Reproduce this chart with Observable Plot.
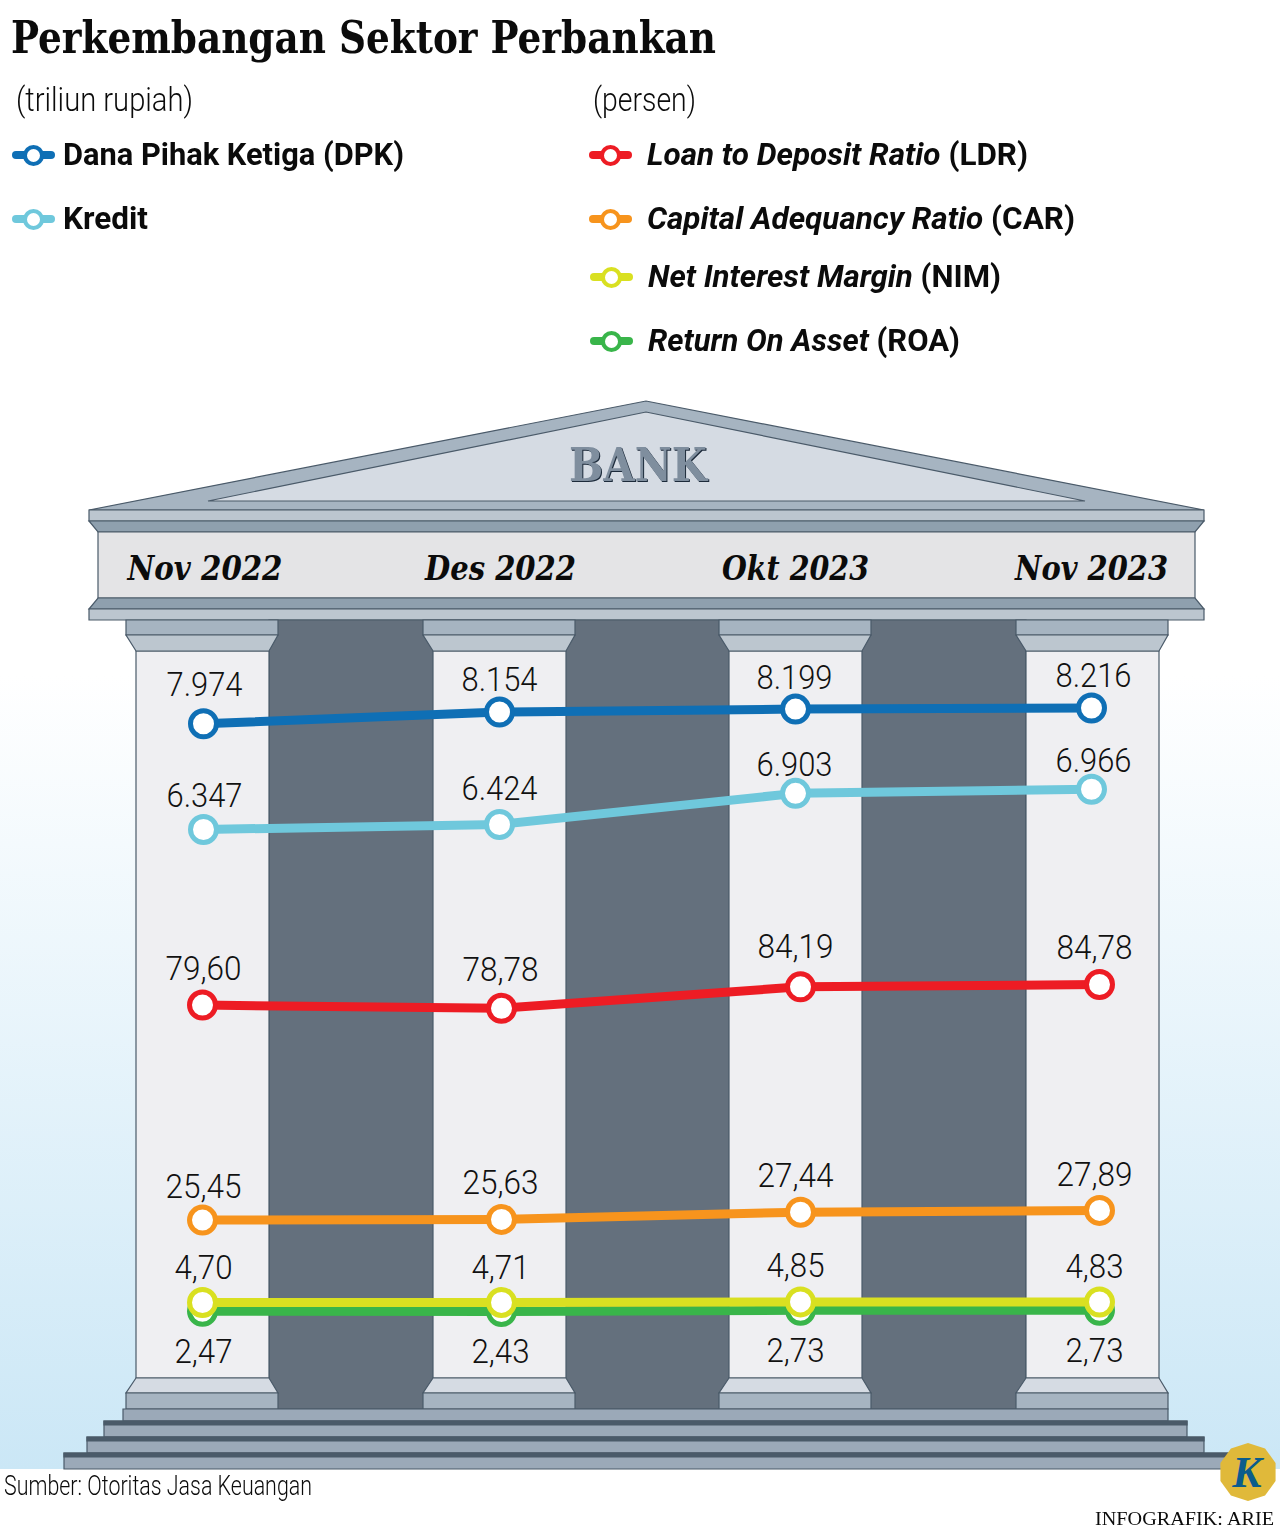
<!DOCTYPE html>
<html>
<head>
<meta charset="utf-8">
<script src="https://cdn.jsdelivr.net/npm/d3@7"></script>
<script src="https://cdn.jsdelivr.net/npm/@observablehq/plot@0.6"></script>
<style>
  body { margin: 0; background: #fff; }
  #page { position: relative; width: 1280px; height: 1529px; overflow: hidden; }
  #sky { position: absolute; left: 0; top: 0; width: 1280px; height: 1469px;
         background: linear-gradient(#fff 0%, #fff 46%, #cbe7f6 100%); }
  #page svg { position: absolute; left: 0; top: 0; }
  .txt { position: absolute; white-space: pre; transform-origin: left center; line-height: 1; color: #0b0b0b; }
  .swatch { position: absolute; height: 8px; border-radius: 4px; }
  .swatch i { position: absolute; left: 50%; top: 50%; width: 13px; height: 13px; margin: -10.5px; border: 4px solid; border-radius: 50%; background: #fff; }
</style>
</head>
<body>
<div id="page"><div id="sky"></div></div>
<script>
// data
const months = ["Nov 2022", "Des 2022", "Okt 2023", "Nov 2023"];
const dpk = [7974, 8154, 8199, 8216];
const kredit = [6347, 6424, 6903, 6966];
const ldr = [79.60, 78.78, 84.19, 84.78];
const car = [25.45, 25.63, 27.44, 27.89];
const nim = [4.70, 4.71, 4.85, 4.83];
const roa = [2.47, 2.43, 2.73, 2.73];

// label offsets from each dot, px
const dpkDy = [-38, -32, -31, -32];
const kreditDy = [-33, -35, -28, -28];
const ldrDy = [-36, -38, -39, -36];
const carDy = [-33, -36, -36, -35];
const nimDy = [-34, -34, -35, -35];
const roaDy = [41, 41, 41, 41];
const persenDx = [1, -1, -5, -5];
const rupiahDx = [1, 0, -1, 2];
const monthDx = [1.5, 1, 0, 0];

const colors = { dpk: "#0f6fb5", kredit: "#6fc8dc", ldr: "#ed1c24", car: "#f7941d", nim: "#d9e021", roa: "#39b54a" };

const fmt = d3.formatLocale({ decimal: ",", thousands: ".", grouping: [3], currency: ["", ""] });
const fmtRupiah = fmt.format(",d");
const fmtPersen = fmt.format(".2f");

const page = document.getElementById("page");
const serif = "'DejaVu Serif Condensed', 'DejaVu Serif', serif";

// temple behind the chart, pure decoration
function building() {
  const g = d3.create("svg:g").attr("stroke", "#4a5a69").attr("stroke-width", 1.2);
  const poly = (pts, fill) => g.append("path").attr("d", "M" + pts.join("L") + "Z").attr("fill", fill);
  const box = (x1, y1, x2, y2, fill) => poly([[x1, y1], [x2, y1], [x2, y2], [x1, y2]], fill);

  poly([[89, 510], [646, 401], [1204, 510]], "#a6b4c1");
  poly([[208, 501], [646, 412], [1085, 501]], "#d5dbe3");
  box(89, 510, 1204, 521, "#bcc6cf");
  poly([[89, 521], [1204, 521], [1195, 532], [98, 532]], "#8fa0ae");
  box(98, 532, 1195, 598, "#e4e4e6");
  poly([[98, 598], [1195, 598], [1204, 609], [89, 609]], "#8fa0ae");
  box(89, 609, 1204, 620, "#bcc6cf");

  box(269, 620, 1026, 1409, "#64707d");
  for (const x of [126, 423, 719, 1016]) {
    box(x + 10, 651, x + 143, 1378, "#efeff2");
    box(x, 620, x + 152, 635, "#a6b4c1");
    poly([[x, 635], [x + 152, 635], [x + 143, 651], [x + 10, 651]], "#bcc6cf");
    poly([[x + 10, 1378], [x + 143, 1378], [x + 152, 1393], [x, 1393]], "#d5dbe3");
    box(x, 1393, x + 152, 1409, "#a6b4c1");
  }

  box(123, 1409, 1168, 1421, "#9ba9b8");
  for (const [x1, x2, y] of [[104, 1187, 1421], [87, 1204, 1437], [64, 1240, 1453]]) {
    box(x1, y, x2, y + 16, "#9ba9b8");
    box(x1, y, x2, y + 4, "#4a5a69");
  }

  g.append("text").text("BANK").attr("x", 638).attr("y", 481)
    .attr("text-anchor", "middle").attr("textLength", 138).attr("lengthAdjust", "spacingAndGlyphs")
    .attr("font-family", serif).attr("font-weight", 700).attr("font-size", 46)
    .attr("fill", "#7f8e9e").attr("stroke", "none")
    .style("filter", "drop-shadow(1.5px 1.5px 0 #1c2a3a)");
  return g.node();
}

function logo() {
  const g = d3.create("svg:g").attr("transform", "translate(1248,1472)");
  const pts = d3.range(10).map(i => {
    const a = (i / 10) * 2 * Math.PI - Math.PI / 2;
    return [29 * Math.cos(a), 29 * Math.sin(a)];
  });
  g.append("path").attr("d", "M" + pts.join("L") + "Z").attr("fill", "#e0b93a");
  g.append("path").attr("d", "M" + pts.slice(0, 5).map(p => "0,0L" + p).join("L") + "Z").attr("fill", "#ecca55").attr("opacity", 0.5);
  g.append("text").text("K").attr("x", -1).attr("y", 15).attr("text-anchor", "middle")
    .attr("font-family", "'Liberation Serif', serif").attr("font-style", "italic").attr("font-weight", 700)
    .attr("font-size", 44).attr("fill", "#0b5c8c");
  return g.node();
}

const seriesMarks = (values, dy, color, fmtValue, lineWidth, dx) => {
  const rows = months.map((m, i) => ({ month: m, value: values[i] }));
  return [
    Plot.line(rows, { x: "month", y: "value", stroke: color, strokeWidth: lineWidth }),
    Plot.dot(rows, { x: "month", y: "value", r: 13, stroke: color, strokeWidth: 5, fill: "#fff" }),
    ...rows.map((d, i) => Plot.text([d], {
      x: "month", y: "value", text: r => fmtValue(r.value), dy: dy[i], dx: dx[i],
      className: "val", fontFamily: "Roboto", fontWeight: 300, fontSize: 33, fill: "#111"
    }))
  ];
};

// upper panel: trillion rupiah, also carries the temple and month names
const chartRupiah = Plot.plot({
  width: 1280, height: 1529,
  marginTop: 0, marginRight: 0, marginBottom: 0, marginLeft: 0,
  style: { background: "transparent", overflow: "visible" },
  x: { type: "point", domain: months, range: [201.5, 1092], padding: 0, axis: null },
  y: { domain: d3.extent(kredit.concat(dpk)), range: [829, 707.5], axis: null },
  marks: [
    building,
    ...months.map((m, i) => Plot.text([m], {
      x: d => d, frameAnchor: "top", dy: 556, dx: monthDx[i], text: d => d, className: "month",
      fontFamily: serif, fontStyle: "italic", fontWeight: 700, fontSize: 33, fill: "#0b0b0b"
    })),
    ...seriesMarks(dpk, dpkDy, colors.dpk, fmtRupiah, 9, rupiahDx),
    ...seriesMarks(kredit, kreditDy, colors.kredit, fmtRupiah, 9, rupiahDx)
  ]
});

// lower panel: percent, its own scale sitting on the same page
const chartPersen = Plot.plot({
  width: 1280, height: 1529,
  marginTop: 0, marginRight: 0, marginBottom: 0, marginLeft: 0,
  style: { background: "transparent", overflow: "visible" },
  x: { type: "point", domain: months, range: [201.5, 1098.5], padding: 0, axis: null },
  y: { domain: d3.extent(roa.concat(ldr)), range: [1311, 984], axis: null },
  marks: [
    ...seriesMarks(ldr, ldrDy, colors.ldr, fmtPersen, 9, persenDx),
    ...seriesMarks(car, carDy, colors.car, fmtPersen, 9, persenDx),
    ...seriesMarks(roa, roaDy, colors.roa, fmtPersen, 9, persenDx),
    ...seriesMarks(nim, nimDy, colors.nim, fmtPersen, 9, persenDx),
    logo
  ]
});

page.append(chartRupiah, chartPersen);

// DIN-like narrow numbers and month names
for (const t of page.querySelectorAll(".val text")) {
  t.setAttribute("textLength", t.textContent.length === 5 ? 76 : 58);
  t.setAttribute("lengthAdjust", "spacingAndGlyphs");
}
const monthWidths = [155, 151, 147, 153];
page.querySelectorAll(".month text").forEach((t, i) => {
  t.setAttribute("textLength", monthWidths[i]);
  t.setAttribute("lengthAdjust", "spacingAndGlyphs");
});

// html text, squeezed to the width it has in the picture
function addText(html, x, cy, width, size, family, weight) {
  const el = document.createElement("div");
  el.className = "txt";
  el.innerHTML = html;
  el.style.cssText = `left:${x}px;top:${cy - size / 2}px;font-size:${size}px;font-family:${family};font-weight:${weight}`;
  page.append(el);
  el.style.transform = `scaleX(${width / el.getBoundingClientRect().width})`;
}
function addSwatch(x, cy, color) {
  const el = document.createElement("div");
  el.className = "swatch";
  el.style.cssText = `left:${x}px;top:${cy - 4}px;width:43px;background:${color}`;
  el.innerHTML = `<i style="border-color:${color}"></i>`;
  page.append(el);
}

addText("Perkembangan Sektor Perbankan", 11, 38, 705, 44, serif, 700);
addText("(triliun rupiah)", 16, 99, 177, 33, "Roboto", 300);
addText("(persen)", 593, 99, 103, 33, "Roboto", 300);

addSwatch(12, 155, colors.dpk);
addText("Dana Pihak Ketiga (DPK)", 63, 154, 341, 32, "Roboto", 700);
addSwatch(12, 219, colors.kredit);
addText("Kredit", 63, 218, 85, 32, "Roboto", 700);

addSwatch(589, 155, colors.ldr);
addText("<i>Loan to Deposit Ratio</i> (LDR)", 647, 154, 381, 32, "Roboto", 700);
addSwatch(589, 219, colors.car);
addText("<i>Capital Adequancy Ratio</i> (CAR)", 647, 218, 428, 32, "Roboto", 700);
addSwatch(590, 277, colors.nim);
addText("<i>Net Interest Margin</i> (NIM)", 648, 276, 353, 32, "Roboto", 700);
addSwatch(590, 341, colors.roa);
addText("<i>Return On Asset</i> (ROA)", 648, 340, 312, 32, "Roboto", 700);

addText("Sumber: Otoritas Jasa Keuangan", 4, 1486, 308, 28, "Roboto", 300);
addText("INFOGRAFIK: ARIE", 1095, 1518, 179, 19, "'Liberation Serif', serif", 400);
</script>
</body>
</html>
